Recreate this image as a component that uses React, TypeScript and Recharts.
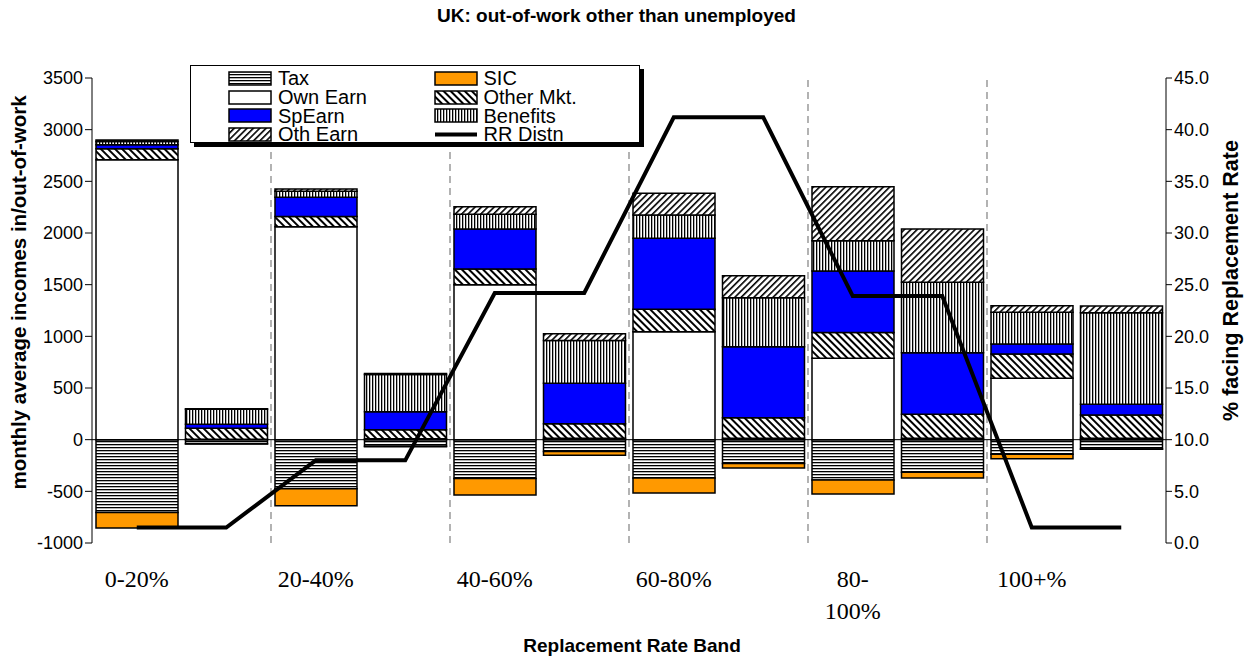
import React from "react";
import {
  ComposedChart,
  Bar,
  Line,
  XAxis,
  YAxis,
  ReferenceLine,
  Label,
  Legend,
} from "recharts";

const bandLabels = ["0-20%", "20-40%", "40-60%", "60-80%", "80-100%", "100+%"];
const barKinds = ["in-work", "out-of-work"];

const tax = [-705, -40, -475, -63, -375, -115, -370, -230, -390, -315, -140, -90];
const sic = [-150, -3, -165, -5, -160, -35, -145, -45, -135, -55, -45, -3];
const ownEarn = [2710, 5, 2060, 10, 1500, 13, 1045, 13, 788, 13, 594, 13];
const otherMkt = [105, 105, 100, 85, 152, 140, 217, 200, 248, 233, 235, 226];
const spEarn = [40, 40, 185, 175, 387, 394, 687, 687, 597, 596, 97, 104];
const benefits = [30, 145, 60, 360, 142, 412, 226, 474, 293, 681, 307, 886];
const othEarn = [15, 5, 20, 10, 74, 65, 209, 213, 522, 516, 64, 65];
const rrDistn = [1.5, 1.5, 8.0, 8.0, 24.2, 24.2, 41.2, 41.2, 23.9, 23.9, 1.5, 1.5];

const leftTicks = [-1000, -500, 0, 500, 1000, 1500, 2000, 2500, 3000, 3500];
const rightTicks = [0, 5, 10, 15, 20, 25, 30, 35, 40, 45];

const data = tax.map((_, i) => ({
  cat: `${bandLabels[Math.floor(i / 2)]} ${barKinds[i % 2]}`,
  tax: tax[i],
  sic: sic[i],
  ownEarn: ownEarn[i],
  otherMkt: otherMkt[i],
  spEarn: spEarn[i],
  benefits: benefits[i],
  othEarn: othEarn[i],
  rr: rrDistn[i],
}));

// band boundaries: end of every out-of-work bar except the last
const bandEnds = data.filter((_, i) => i % 2 === 1 && i < data.length - 1).map((d) => d.cat);

const SANS = "Arial, 'Liberation Sans', sans-serif";
const SERIF = "'Times New Roman', 'Liberation Serif', serif";

const series = [
  { key: "tax", name: "Tax", fill: "url(#pTax)" },
  { key: "sic", name: "SIC", fill: "#FF9900" },
  { key: "ownEarn", name: "Own Earn", fill: "#FFFFFF" },
  { key: "otherMkt", name: "Other Mkt.", fill: "url(#pOther)" },
  { key: "spEarn", name: "SpEarn", fill: "#0000FF" },
  { key: "benefits", name: "Benefits", fill: "url(#pBen)" },
  { key: "othEarn", name: "Oth Earn", fill: "url(#pOth)" },
];

const legendCol1 = ["Tax", "Own Earn", "SpEarn", "Oth Earn"];
const legendCol2 = ["SIC", "Other Mkt.", "Benefits", "RR Distn"];

const Swatch = ({ name }: { name: string }) => {
  if (name === "RR Distn") {
    return (
      <svg width={44} height={15} style={{ display: "block" }}>
        <line x1={1} y1={7.5} x2={43} y2={7.5} stroke="#000" strokeWidth={4} />
      </svg>
    );
  }
  const s = series.find((x) => x.name === name)!;
  return (
    <svg width={44} height={15} style={{ display: "block" }}>
      <rect x={1} y={1} width={42} height={13} fill={s.fill} stroke="#000" strokeWidth={1.5} />
    </svg>
  );
};

const LegendBox = () => (
  <div
    style={{
      width: 450,
      height: 78,
      boxSizing: "border-box",
      border: "1px solid #000",
      background: "#fff",
      boxShadow: "4px 4px 0 #000",
      display: "flex",
      paddingLeft: 37,
      paddingTop: 3,
      fontFamily: SANS,
      fontSize: 20,
      color: "#000",
    }}
  >
    {[legendCol1, legendCol2].map((col, ci) => (
      <div key={ci} style={{ width: 226 }}>
        {col.map((n) => (
          <div key={n} style={{ display: "flex", alignItems: "center", height: 18.7 }}>
            <Swatch name={n} />
            <span style={{ marginLeft: 6, lineHeight: "18px" }}>{n}</span>
          </div>
        ))}
      </div>
    ))}
  </div>
);

const CatTick = (props: any) => {
  const { x, y, index } = props;
  if (index % 2 !== 0) return null;
  const label = bandLabels[index / 2];
  const cut = label.indexOf("-") + 1;
  const lines = label.length > 6 ? [label.slice(0, cut), label.slice(cut)] : [label];
  return (
    <text x={x} y={y} textAnchor="middle" fontFamily={SERIF} fontSize={24} fill="#000">
      {lines.map((l, i) => (
        <tspan key={i} x={x} dy={i === 0 ? 36 : 32}>
          {l}
        </tspan>
      ))}
    </text>
  );
};

const SideLabel = ({ viewBox, value, side }: any) => {
  const { x, y, width, height } = viewBox;
  const cx = side === "left" ? x - 14 : x + width;
  const cy = y + height / 2 + (side === "left" ? -18 : -30);
  return (
    <text
      x={cx}
      y={cy}
      transform={`rotate(-90 ${cx} ${cy})`}
      textAnchor="middle"
      dominantBaseline="central"
      fontFamily={SANS}
      fontWeight="bold"
      fontSize={side === "left" ? 20.5 : 21.5}
      fill="#000"
    >
      {value}
    </text>
  );
};

const BottomLabel = ({ viewBox, value }: any) => {
  const { x, y, width } = viewBox;
  return (
    <text
      x={x + width / 2 + 3}
      y={y + 102}
      textAnchor="middle"
      dominantBaseline="central"
      fontFamily={SANS}
      fontWeight="bold"
      fontSize={19}
      fill="#000"
    >
      {value}
    </text>
  );
};

export default function App() {
  return (
    <div style={{ position: "absolute", left: 0, top: 0, width: 1258, height: 659, background: "#fff" }}>
      <div
        style={{
          position: "absolute",
          left: 0,
          top: 5,
          width: 1233,
          textAlign: "center",
          fontFamily: SANS,
          fontWeight: "bold",
          fontSize: 19,
          lineHeight: "22px",
          color: "#000",
        }}
      >
        UK: out-of-work other than unemployed
      </div>
      <ComposedChart
        width={1258}
        height={659}
        data={data}
        stackOffset="sign"
        margin={{ top: 78, right: 27, bottom: 46, left: 32 }}
      >
        <defs>
          <pattern id="pTax" patternUnits="userSpaceOnUse" width={6} height={3}>
            <rect width={6} height={3} fill="#fff" />
            <rect y={0} width={6} height={1.3} fill="#000" />
          </pattern>
          <pattern id="pBen" patternUnits="userSpaceOnUse" width={3} height={6}>
            <rect width={3} height={6} fill="#fff" />
            <rect x={0} width={1.3} height={6} fill="#000" />
          </pattern>
          <pattern id="pOther" patternUnits="userSpaceOnUse" width={5} height={5} patternTransform="rotate(-45)">
            <rect width={5} height={5} fill="#fff" />
            <rect x={0} width={2} height={5} fill="#000" />
          </pattern>
          <pattern id="pOth" patternUnits="userSpaceOnUse" width={4.5} height={5} patternTransform="rotate(45)">
            <rect width={4.5} height={5} fill="#fff" />
            <rect x={0} width={1.6} height={5} fill="#000" />
          </pattern>
        </defs>
        <XAxis
          dataKey="cat"
          axisLine={false}
          tickLine={false}
          interval={0}
          height={70}
          tick={<CatTick />}
        >
          <Label value="Replacement Rate Band" content={<BottomLabel />} />
        </XAxis>
        <YAxis
          yAxisId="left"
          domain={[-1000, 3500]}
          ticks={leftTicks}
          interval={0}
          width={60}
          axisLine={{ stroke: "#000", strokeWidth: 1 }}
          tickLine={{ stroke: "#000" }}
          tickSize={7}
          tick={{ fill: "#000", fontFamily: SANS, fontSize: 18 }}
        >
          <Label value="monthly average incomes in/out-of-work" content={<SideLabel side="left" />} />
        </YAxis>
        <YAxis
          yAxisId="right"
          orientation="right"
          domain={[0, 45]}
          ticks={rightTicks}
          interval={0}
          width={65}
          axisLine={{ stroke: "#000", strokeWidth: 1 }}
          tickLine={{ stroke: "#000" }}
          tickSize={6}
          tickFormatter={(v: number) => v.toFixed(1)}
          tick={{ fill: "#000", fontFamily: SANS, fontSize: 18 }}
        >
          <Label value="% facing Replacement Rate" content={<SideLabel side="right" />} />
        </YAxis>
        {bandEnds.map((c) => (
          <ReferenceLine
            key={c}
            yAxisId="left"
            x={c}
            position="end"
            stroke="#808080"
            strokeWidth={1.2}
            strokeDasharray="7 5"
          />
        ))}
        {series.map((s) => (
          <Bar
            key={s.key}
            yAxisId="left"
            dataKey={s.key}
            name={s.name}
            stackId="a"
            fill={s.fill}
            stroke="#000"
            strokeWidth={1.5}
            barSize={82}
            isAnimationActive={false}
          />
        ))}
        <ReferenceLine yAxisId="left" y={0} stroke="#000" strokeWidth={1} />
        <Line
          yAxisId="right"
          dataKey="rr"
          name="RR Distn"
          type="linear"
          stroke="#000"
          strokeWidth={4}
          dot={false}
          activeDot={false}
          isAnimationActive={false}
        />
        <Legend
          layout="vertical"
          align="center"
          verticalAlign="middle"
          content={<LegendBox />}
          wrapperStyle={{ left: 190, top: 65, width: 450, height: 78 }}
        />
      </ComposedChart>
    </div>
  );
}
